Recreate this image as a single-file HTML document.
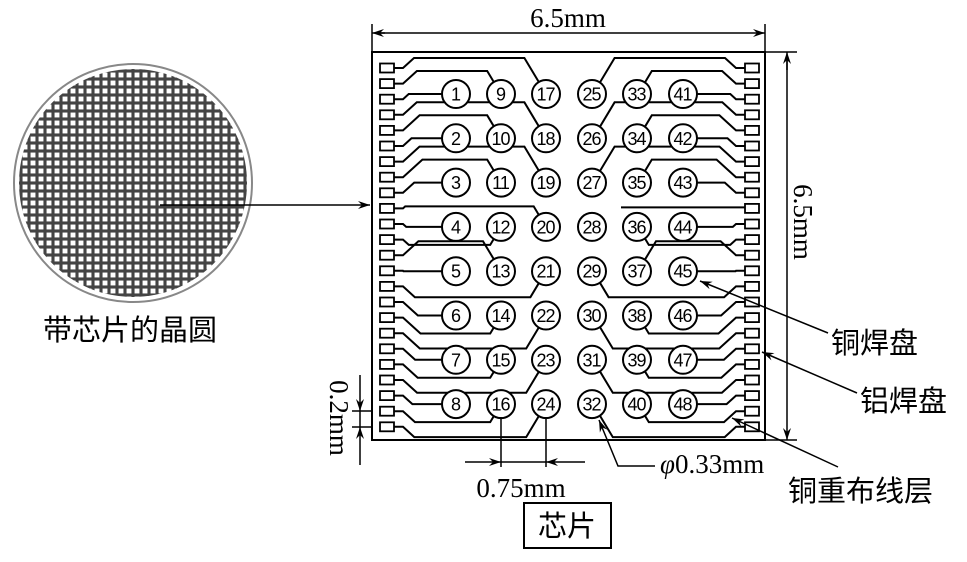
<!DOCTYPE html>
<html><head><meta charset="utf-8"><style>
html,body{margin:0;padding:0;background:#fff;}
svg{display:block;}
text{font-family:"Liberation Serif","Noto Serif CJK SC",serif;fill:#000;}
.cj{font-family:"Liberation Sans","Noto Sans CJK SC",sans-serif;}
.n{font-family:"Liberation Sans",sans-serif;font-size:18px;text-anchor:middle;letter-spacing:-1px;}
</style></head><body>
<svg id="s" width="967" height="562" viewBox="0 0 967 562" xmlns="http://www.w3.org/2000/svg">
<defs>
<pattern id="g" x="13" y="63" width="8" height="8" patternUnits="userSpaceOnUse">
<rect x="0.75" y="0.75" width="6.5" height="6.5" fill="#fff" stroke="#444" stroke-width="1.6"/>
</pattern>
<clipPath id="cc"><circle cx="133" cy="183" r="114"/></clipPath>
<marker id="a" viewBox="0 0 12 8" refX="12" refY="4" markerWidth="12" markerHeight="8" orient="auto" markerUnits="userSpaceOnUse"><path d="M0,0 L12,4 L0,8 L4,4 z" fill="#000"/></marker>
</defs>
<rect x="13" y="63" width="240" height="240" fill="url(#g)" clip-path="url(#cc)"/>
<circle cx="133" cy="183" r="119" fill="none" stroke="#888" stroke-width="2"/>
<line x1="160" y1="205" x2="370" y2="205" stroke="#000" stroke-width="1.5" marker-end="url(#a)"/>
<text class="cj" x="130" y="340" font-size="29" text-anchor="middle">带芯片的晶圆</text>
<rect x="372" y="52" width="393" height="388" fill="none" stroke="#000" stroke-width="2"/>
<g id="tr" fill="none" stroke="#000" stroke-width="2"></g>
<g id="cir"></g>
<line x1="372" y1="24" x2="372" y2="52" stroke="#000" stroke-width="1.5"/>
<line x1="765" y1="24" x2="765" y2="52" stroke="#000" stroke-width="1.5"/>
<line x1="385" y1="33" x2="372" y2="33" stroke="#000" stroke-width="1.5" marker-end="url(#a)"/>
<line x1="380" y1="33" x2="765" y2="33" stroke="#000" stroke-width="1.5" marker-end="url(#a)"/>
<text x="568" y="27" font-size="27" text-anchor="middle">6.5mm</text>
<line x1="765" y1="52" x2="797" y2="52" stroke="#000" stroke-width="1.5"/>
<line x1="765" y1="440" x2="797" y2="440" stroke="#000" stroke-width="1.5"/>
<line x1="787" y1="70" x2="787" y2="52" stroke="#000" stroke-width="1.5" marker-end="url(#a)"/>
<line x1="787" y1="60" x2="787" y2="440" stroke="#000" stroke-width="1.5" marker-end="url(#a)"/>
<text x="0" y="0" font-size="27" text-anchor="middle" transform="translate(794,222) rotate(90)">6.5mm</text>
<line x1="352" y1="411" x2="372" y2="411" stroke="#000" stroke-width="1.5"/>
<line x1="352" y1="427" x2="372" y2="427" stroke="#000" stroke-width="1.5"/>
<line x1="360" y1="375" x2="360" y2="411" stroke="#000" stroke-width="1.5" marker-end="url(#a)"/>
<line x1="360" y1="465" x2="360" y2="427" stroke="#000" stroke-width="1.5" marker-end="url(#a)"/>
<line x1="360" y1="411" x2="360" y2="427" stroke="#000" stroke-width="1.5"/>
<text x="0" y="0" font-size="27" text-anchor="middle" transform="translate(330,418) rotate(90)">0.2mm</text>
<line x1="501" y1="417" x2="501" y2="467" stroke="#000" stroke-width="1.5"/>
<line x1="546" y1="417" x2="546" y2="467" stroke="#000" stroke-width="1.5"/>
<line x1="465" y1="462" x2="501" y2="462" stroke="#000" stroke-width="1.5" marker-end="url(#a)"/>
<line x1="585" y1="462" x2="546" y2="462" stroke="#000" stroke-width="1.5" marker-end="url(#a)"/>
<line x1="501" y1="462" x2="546" y2="462" stroke="#000" stroke-width="1.5"/>
<text x="521" y="497" font-size="27" text-anchor="middle">0.75mm</text>
<rect x="524" y="503" width="87" height="45" fill="none" stroke="#000" stroke-width="2"/>
<text class="cj" x="567" y="536" font-size="29" text-anchor="middle">芯片</text>
<polyline points="655,466 618,466 599,420" fill="none" stroke="#000" stroke-width="1.5" marker-end="url(#a)"/>
<text x="660" y="473" font-size="27"><tspan font-style="italic">φ</tspan>0.33mm</text>
<line x1="828" y1="333" x2="700" y2="281" stroke="#000" stroke-width="1.5" marker-end="url(#a)"/>
<text class="cj" x="831" y="353" font-size="29">铜焊盘</text>
<line x1="857" y1="393" x2="762" y2="352" stroke="#000" stroke-width="1.5" marker-end="url(#a)"/>
<text class="cj" x="860" y="411" font-size="29">铝焊盘</text>
<line x1="838" y1="467" x2="732" y2="418" stroke="#000" stroke-width="1.5" marker-end="url(#a)"/>
<text class="cj" x="788" y="501" font-size="29">铜重布线层</text>
</svg>
<script>
(function(){
var NS="http://www.w3.org/2000/svg";
var tr=document.getElementById("tr"),ci=document.getElementById("cir");
var cols=[456,501,546,592,637,683],R=14;
function rowY(r){return 94+44.3*r;}
function padY(r,k){return 68+15.6*(3*r+k);}
var d="";
function route(py,ly,col,C,mir){
  var xc=cols[col];var pts=[[394,py],[403,py]];
  var dx=Math.abs(ly-py)*1.1;
  var x1=403+dx;
  if(ly===C){pts.push([x1,ly]);pts.push([xc-R,ly]);}
  else{
    pts.push([x1,ly]);
    var ex=xc-Math.abs(C-ly)*0.6;pts.push([ex,ly]);
    var vx=ex-xc,vy=ly-C,L=Math.sqrt(vx*vx+vy*vy);
    pts.push([xc+vx/L*R,C+vy/L*R]);
  }
  var s="M";
  pts.forEach(function(p,i){var x=mir?1139-p[0]:p[0];s+=(i?" L":"")+x.toFixed(1)+","+p[1].toFixed(1);});
  d+=s+" ";
}
for(var r=0;r<8;r++){
  var C=rowY(r);
  var p0=padY(r,0),p1=padY(r,1),p2=padY(r,2);
  if(r<3){route(p0,C-36,2,C,0);route(p1,C-23,1,C,0);route(p2,C,0,C,0);}
  else if(r===3){route(p0,p0-2,2,C,0);route(p1,C,0,C,0);route(p2,C+18,1,C,0);}
  else if(r===4){route(p0,C-30,1,C,0);route(p1,C,0,C,0);route(p2,C+26,2,C,0);}
  else{route(p0,C,0,C,0);route(p1,C+18,1,C,0);route(p2,C+33,2,C,0);}
  if(r<3){route(p0,C-36,2,C,1);route(p1,C-23,1,C,1);route(p2,C,0,C,1);}
  else if(r===3){d+="M621,"+(p0-1).toFixed(1)+" L745,"+(p0-1).toFixed(1)+" ";route(p1,C,0,C,1);route(p2,C+18,1,C,1);}
  else if(r===4){route(p0,C-30,1,C,1);route(p1,C,0,C,1);route(p2,C+26,2,C,1);}
  else{route(p0,C,0,C,1);route(p1,C+18,1,C,1);route(p2,C+33,2,C,1);}
}
var p=document.createElementNS(NS,"path");p.setAttribute("d",d);tr.appendChild(p);
for(var r=0;r<8;r++)for(var k=0;k<3;k++){
  var y=padY(r,k);
  [380,745].forEach(function(x){var e=document.createElementNS(NS,"rect");
  e.setAttribute("x",x);e.setAttribute("y",(y-4.5).toFixed(1));e.setAttribute("width",14);e.setAttribute("height",9);
  e.setAttribute("fill","#fff");e.setAttribute("stroke","#000");e.setAttribute("stroke-width","1.8");tr.appendChild(e);});
}
for(var c=0;c<6;c++)for(var r=0;r<8;r++){
  var x=cols[c],y=rowY(r),n;
  n=c<3?([1,9,17][c]+r):([25,33,41][c-3]+r);
  var e=document.createElementNS(NS,"circle");e.setAttribute("cx",x);e.setAttribute("cy",y.toFixed(1));e.setAttribute("r",R);
  e.setAttribute("fill","#fff");e.setAttribute("stroke","#000");e.setAttribute("stroke-width","2");ci.appendChild(e);
  var t=document.createElementNS(NS,"text");t.setAttribute("class","n");t.setAttribute("x",x-0.5);t.setAttribute("y",(y+6.5).toFixed(1));
  t.textContent=n;ci.appendChild(t);
}
})();
</script>
</body></html>
